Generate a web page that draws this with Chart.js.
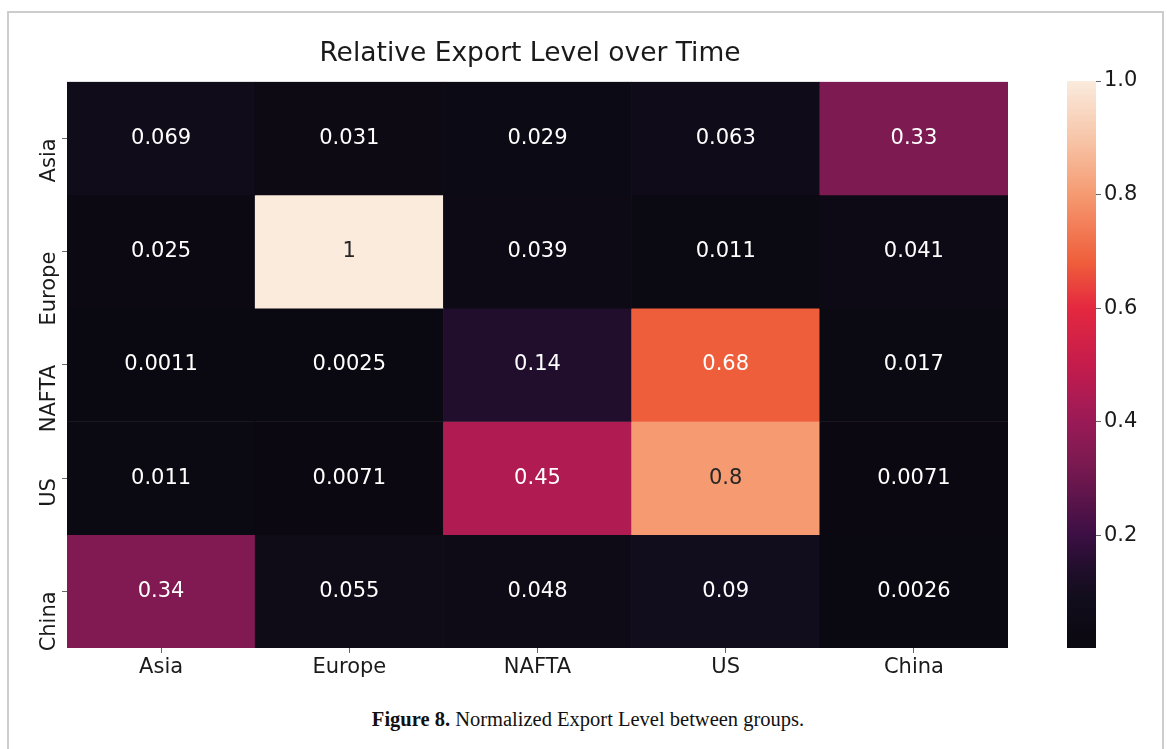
<!DOCTYPE html>
<html>
<head>
<meta charset="utf-8">
<title>Relative Export Level over Time</title>
<script src="https://cdn.jsdelivr.net/npm/chart.js@4.4.1/dist/chart.umd.min.js"></script>
<style>
  html, body { margin: 0; padding: 0; background: #fff; }
  body { width: 1167px; height: 749px; position: relative; overflow: hidden; }
  .frame { position: absolute; left: 7px; top: 11px; width: 1153px; height: 760px; border: 2px solid #cdcdcd; border-bottom: none; }
  #heatWrap { position: absolute; left: 0; top: 0; width: 1060px; height: 700px; }
  #barWrap { position: absolute; left: 1040px; top: 0; width: 110px; height: 700px; }
  .caption { position: absolute; left: 0; width: 1176px; top: 708px; text-align: center;
             font-family: "Liberation Serif", serif; font-size: 20.5px; color: #111; }
</style>
</head>
<body>
<div class="frame"></div>
<div id="heatWrap"><canvas id="heatmap"></canvas></div>
<div id="barWrap"><canvas id="colorbar"></canvas></div>
<div class="caption"><b>Figure 8.</b> Normalized Export Level between groups.</div>
<script>
// exporter groups (rows, top to bottom) and importer groups (columns)
const rows = ["Asia", "Europe", "NAFTA", "US", "China"];
const cols = ["Asia", "Europe", "NAFTA", "US", "China"];

// normalized export level, one array per row
const asiaRow = [0.069, 0.031, 0.029, 0.063, 0.33];
const europeRow = [0.025, 1, 0.039, 0.011, 0.041];
const naftaRow = [0.0011, 0.0025, 0.14, 0.68, 0.017];
const usRow = [0.011, 0.0071, 0.45, 0.8, 0.0071];
const chinaRow = [0.34, 0.055, 0.048, 0.09, 0.0026];

const colorbarTicks = [0.2, 0.4, 0.6, 0.8, 1.0];

const matrix = [asiaRow, europeRow, naftaRow, usRow, chinaRow];
const allValues = matrix.flat();
const vmin = Math.min(...allValues);
const vmax = Math.max(...allValues);

// "rocket"-like colormap, as it shows in the figure
const rocketStops = [
  [0.0, "#0a0810"],
  [0.09, "#120d1c"],
  [0.14, "#210e2c"],
  [0.2, "#3c0f44"],
  [0.33, "#7d1a51"],
  [0.4, "#9a1a56"],
  [0.45, "#b01b52"],
  [0.5, "#c51c4c"],
  [0.6, "#e4283f"],
  [0.68, "#ef5e3b"],
  [0.8, "#f59a71"],
  [0.9, "#f7c6a9"],
  [1.0, "#faebdd"],
];

function hexToRgb(h) {
  return [1, 3, 5].map((i) => parseInt(h.slice(i, i + 2), 16));
}

function norm(v) {
  return (v - vmin) / (vmax - vmin);
}

function rocket(t) {
  t = Math.max(0, Math.min(1, t));
  for (let i = 1; i < rocketStops.length; i++) {
    const [t1, c1] = rocketStops[i];
    if (t <= t1) {
      const [t0, c0] = rocketStops[i - 1];
      const f = (t - t0) / (t1 - t0);
      const a = hexToRgb(c0), b = hexToRgb(c1);
      const rgb = a.map((x, k) => Math.round(x + (b[k] - x) * f));
      return `rgb(${rgb[0]}, ${rgb[1]}, ${rgb[2]})`;
    }
  }
  return rocketStops[rocketStops.length - 1][1];
}

function luminance(rgbStr) {
  const rgb = rgbStr.match(/\d+/g).map(Number).map((c) => {
    c = c / 255;
    return c <= 0.03928 ? c / 12.92 : Math.pow((c + 0.055) / 1.055, 2.4);
  });
  return 0.2126 * rgb[0] + 0.7152 * rgb[1] + 0.0722 * rgb[2];
}

// same as python's '.2g'
function fmt(v) {
  return String(Number(v.toPrecision(2)));
}

const tickFont = { family: "DejaVu Sans", size: 21 };
const textColor = "#1a1a1a";

// cell labels
const annotate = {
  id: "annotate",
  afterDatasetsDraw(chart) {
    const ctx = chart.ctx;
    ctx.save();
    ctx.font = "21px 'DejaVu Sans'";
    ctx.textAlign = "center";
    ctx.textBaseline = "middle";
    chart.data.datasets.forEach((ds, i) => {
      chart.getDatasetMeta(i).data.forEach((bar, j) => {
        const v = ds.values[j];
        ctx.fillStyle = luminance(rocket(norm(v))) > 0.408 ? "#262626" : "#ffffff";
        ctx.fillText(fmt(v), bar.x, (bar.y + bar.base) / 2);
      });
    });
    ctx.restore();
  },
};

// one floating bar per cell, each row is a dataset
const heatDatasets = matrix.map((vals, r) => ({
  label: rows[r],
  values: vals,
  data: vals.map(() => [rows.length - 1 - r, rows.length - r]),
  backgroundColor: vals.map((v) => rocket(norm(v))),
  borderWidth: 0,
  grouped: false,
  barPercentage: 1,
  categoryPercentage: 1,
}));

new Chart(document.getElementById("heatmap"), {
  type: "bar",
  data: { labels: cols, datasets: heatDatasets },
  options: {
    responsive: true,
    maintainAspectRatio: false,
    animation: false,
    plugins: {
      legend: { display: false },
      tooltip: { enabled: false },
      title: {
        display: true,
        text: "Relative Export Level over Time",
        color: textColor,
        font: { family: "DejaVu Sans", size: 26.5, weight: "normal" },
        padding: { top: 38, bottom: 12 },
      },
    },
    scales: {
      x: {
        grid: { display: true, drawOnChartArea: false, offset: false, tickLength: 5, color: "#666" },
        border: { display: false },
        ticks: { color: textColor, font: tickFont, padding: 2, maxRotation: 0 },
        afterFit(scale) {
          scale.height = 52;
        },
      },
      y: {
        type: "linear",
        min: 0,
        max: rows.length,
        grid: { display: true, drawOnChartArea: false, tickLength: 5, color: "#666" },
        border: { display: false },
        afterBuildTicks(scale) {
          scale.ticks = rows.map((_, i) => ({ value: rows.length - 0.5 - i }));
        },
        ticks: {
          color: textColor,
          font: tickFont,
          padding: 12,
          minRotation: 90,
          maxRotation: 90,
          callback: (value) => rows[Math.round(rows.length - 0.5 - value)],
        },
        afterFit(scale) {
          scale.width = 67;
        },
      },
      // empty right-hand space so the title stays centred on the figure
      gap: {
        type: "linear",
        position: "right",
        grid: { display: false },
        border: { display: false },
        ticks: { display: false },
        afterFit(scale) {
          scale.width = 52;
        },
      },
    },
  },
  plugins: [annotate],
});

// colour bar
function gradientFill(context) {
  const chart = context.chart;
  if (!chart.chartArea) return null;
  const y = chart.scales.y;
  const g = chart.ctx.createLinearGradient(0, y.getPixelForValue(vmin), 0, y.getPixelForValue(vmax));
  rocketStops.forEach(([t, c]) => g.addColorStop(t, c));
  return g;
}

new Chart(document.getElementById("colorbar"), {
  type: "bar",
  data: {
    labels: [""],
    datasets: [{ data: [[vmin, vmax]], backgroundColor: gradientFill, borderWidth: 0, barPercentage: 1, categoryPercentage: 1 }],
  },
  options: {
    responsive: true,
    maintainAspectRatio: false,
    animation: false,
    layout: { padding: { left: 27, right: 0, top: 81, bottom: 52 } },
    plugins: { legend: { display: false }, tooltip: { enabled: false } },
    scales: {
      x: { display: false },
      y: {
        position: "right",
        min: vmin,
        max: vmax,
        grid: { display: true, drawOnChartArea: false, tickLength: 5, color: "#666" },
        border: { display: false },
        afterBuildTicks(scale) {
          scale.ticks = colorbarTicks.map((v) => ({ value: v }));
        },
        ticks: { color: textColor, font: tickFont, padding: 3, callback: (v) => v.toFixed(1) },
        afterFit(scale) {
          scale.width = 54;
        },
      },
    },
  },
});
</script>
</body>
</html>
